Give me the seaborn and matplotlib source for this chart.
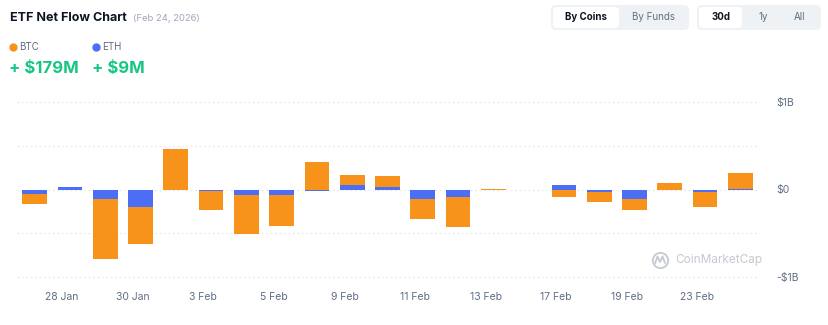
import matplotlib
matplotlib.use("Agg")
import matplotlib.pyplot as plt
from matplotlib.patches import FancyBboxPatch
from matplotlib.lines import Line2D
import seaborn as sns
import pandas as pd
import numpy as np

# ---- data (billions USD) ----
dates = ["27 Jan", "28 Jan", "29 Jan", "30 Jan", "2 Feb", "3 Feb", "4 Feb", "5 Feb",
         "6 Feb", "9 Feb", "10 Feb", "11 Feb", "12 Feb", "13 Feb", "16 Feb",
         "17 Feb", "18 Feb", "19 Feb", "20 Feb", "23 Feb", "24 Feb"]
btc = [-0.118, 0.0, -0.68, -0.42, 0.465, -0.215, -0.44, -0.35,
       0.31, 0.114, 0.133, -0.23, -0.34, 0.008, 0.0,
       -0.08, -0.118, -0.133, 0.073, -0.168, 0.179]
eth = [-0.046, 0.03, -0.114, -0.20, 0.0, -0.015, -0.065, -0.065,
       -0.012, 0.057, 0.023, -0.103, -0.084, -0.005, 0.0,
       0.053, -0.023, -0.103, 0.0, -0.034, 0.009]
tick_labels = ["28 Jan", "30 Jan", "3 Feb", "5 Feb", "9 Feb", "11 Feb",
               "13 Feb", "17 Feb", "19 Feb", "23 Feb"]
ytick_vals = [1.0, 0.0, -1.0]
ytick_text = ["$1B", "$0", "-$1B"]
btc_total = "+ $179M"
eth_total = "+ $9M"

ORANGE = "#F7931A"
BLUE = "#4B6EF5"
GREEN = "#16C784"
GRAY = "#616E85"

sns.set_theme(style="white")
plt.rcParams["font.family"] = ["Inter", "DejaVu Sans"]

df = pd.DataFrame({"date": dates, "btc": btc, "eth": eth})
same = np.sign(df["btc"]) == np.sign(df["eth"])
df["orange"] = np.where(same, df["btc"] + df["eth"], df["btc"])

W, H = 829, 325
fig = plt.figure(figsize=(W / 100, H / 100), dpi=100)
fig.patch.set_facecolor("white")

ppb = 87.5
y_top_px = 102 - 0.05 * ppb
y_bot_px = 277 + 0.05 * ppb
ax = fig.add_axes([17 / W, (H - y_bot_px) / H, 741 / W, (y_bot_px - y_top_px) / H])

for y in [-1.0, -0.5, 0.0, 0.5, 1.0]:
    ax.axhline(y, color="#e2e5ea", lw=0.8, ls=(0, (1.5, 2.5)), zorder=0)

sns.barplot(data=df, x="date", y="orange", color=ORANGE, saturation=1,
            width=0.7, errorbar=None, linewidth=0, ax=ax, zorder=2)
sns.barplot(data=df, x="date", y="eth", color=BLUE, saturation=1,
            width=0.7, errorbar=None, linewidth=0, ax=ax, zorder=3)

ax.set_ylim(-1.05, 1.05)
ax.set_xlim(-0.5, len(dates) - 0.5)
ax.set_xlabel("")
ax.set_ylabel("")
for s in ax.spines.values():
    s.set_visible(False)

pos = [dates.index(t) - 0.22 for t in tick_labels]
ax.set_xticks(pos)
ax.set_xticklabels(tick_labels, fontsize=7.5, color=GRAY)
ax.tick_params(axis="x", length=0, pad=8)
ax.yaxis.tick_right()
ax.set_yticks(ytick_vals)
ax.set_yticklabels(ytick_text, fontsize=7.5, color=GRAY)
ax.tick_params(axis="y", length=0, pad=13)

# ---- header ----
def fx(px):
    return px / W

def fy(py):
    return 1 - py / H

def dot(x, y, color, size, **kw):
    fig.lines.append(Line2D([fx(x)], [fy(y)], transform=fig.transFigure, marker="o",
                            markersize=size, color=color, lw=0, **kw))

fig.text(fx(10), fy(18), "ETF Net Flow Chart", fontsize=9, fontweight="bold",
         color="#0D1421", va="center", ha="left")
fig.text(fx(133), fy(18.5), "(Feb 24, 2026)", fontsize=6.8, color="#A1A7BB",
         va="center", ha="left")

dot(13, 47, ORANGE, 5)
fig.text(fx(19), fy(47), "BTC", fontsize=7, color=GRAY, va="center", ha="left")
dot(96, 47, BLUE, 5)
fig.text(fx(102), fy(47), "ETH", fontsize=7, color=GRAY, va="center", ha="left")
fig.text(fx(9), fy(68), btc_total, fontsize=12, fontweight="bold", color=GREEN,
         va="center", ha="left")
fig.text(fx(92), fy(68), eth_total, fontsize=12, fontweight="bold", color=GREEN,
         va="center", ha="left")

def rbox(x0, y0, x1, y1, color, r=5):
    fig.patches.append(FancyBboxPatch((fx(x0), fy(y1)), fx(x1) - fx(x0), fy(y0) - fy(y1),
                                      boxstyle=f"round,pad=0,rounding_size={r / W}",
                                      transform=fig.transFigure, fc=color, ec="none",
                                      mutation_aspect=W / H))

rbox(551, 5, 689, 30, "#EFF2F5")
rbox(553, 7, 619, 28, "white", r=4)
rbox(697, 5, 821, 30, "#EFF2F5")
rbox(699, 7, 742, 28, "white", r=4)
fig.text(fx(586), fy(17.5), "By Coins", fontsize=7, fontweight="bold", color="#0D1421",
         ha="center", va="center")
fig.text(fx(654), fy(17.5), "By Funds", fontsize=7, color=GRAY, ha="center", va="center")
fig.text(fx(721), fy(17.5), "30d", fontsize=7, fontweight="bold", color="#0D1421",
         ha="center", va="center")
fig.text(fx(763), fy(17.5), "1y", fontsize=7, color=GRAY, ha="center", va="center")
fig.text(fx(800), fy(17.5), "All", fontsize=7, color=GRAY, ha="center", va="center")

# ---- watermark ----
WM = "#C5C9D1"
fig.lines.append(Line2D([fx(660)], [fy(260)], transform=fig.transFigure, marker="o",
                        markersize=11, markerfacecolor="none", markeredgecolor=WM,
                        markeredgewidth=1.3, lw=0))
xs = [655, 657.5, 660, 662.5, 665]
ys = [263.5, 256.5, 262, 256.5, 263]
fig.lines.append(Line2D([fx(v) for v in xs], [fy(v) for v in ys],
                        transform=fig.transFigure, color=WM, lw=1.3))
fig.text(fx(675), fy(260), "CoinMarketCap", fontsize=8.5, color=WM,
         ha="left", va="center")

fig.savefig("out.png", dpi=100, facecolor="white")
